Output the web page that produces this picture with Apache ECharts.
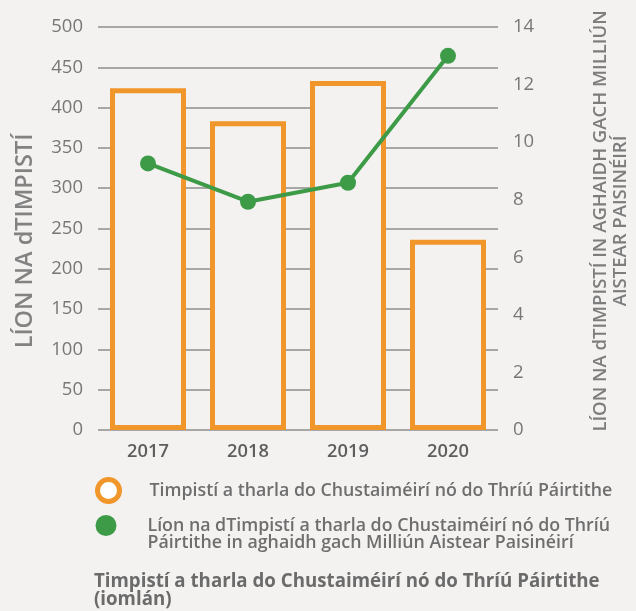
<!DOCTYPE html>
<html>
<head>
<meta charset="utf-8">
<script src="https://cdn.jsdelivr.net/npm/echarts@6/dist/echarts.min.js"></script>
<style>
html,body{margin:0;padding:0;background:#f4f2f1;}
#chart{width:636px;height:611px;}
</style>
</head>
<body>
<div id="chart"></div>
<script>
const categories = ['2017', '2018', '2019', '2020'];
const accidentCounts = [424, 383, 433, 236];
const accidentsPerMillion = [9.26, 7.93, 8.59, 13.0];
const leftTicks = [0, 50, 100, 150, 200, 250, 300, 350, 400, 450, 500];
const rightTicks = [0, 2, 4, 6, 8, 10, 12, 14];

const barName = 'Timpistí a tharla do Chustaiméirí nó do Thríú Páirtithe';
const lineName = 'Líon na dTimpistí a tharla do Chustaiméirí nó do Thríú\nPáirtithe in aghaidh gach Milliún Aistear Paisinéirí';
const leftTitle = 'LÍON NA dTIMPISTÍ';
const rightTitle = 'LÍON NA dTIMPISTÍ IN AGHAIDH GACH MILLIÚN\nAISTEAR PAISINÉIRÍ';
const footTitle = 'Timpistí a tharla do Chustaiméirí nó do Thríú Páirtithe\n(iomlán)';

const ORANGE = '#f0962a';
const GREEN = '#3d9b48';
const FONT = '"Open Sans", sans-serif';

const chart = echarts.init(document.getElementById('chart'));
chart.setOption({
  backgroundColor: '#f4f2f1',
  animation: false,
  textStyle: { fontFamily: FONT },
  title: {
    text: footTitle,
    left: 94,
    top: 573,
    padding: 0,
    textStyle: { fontFamily: FONT, fontSize: 18.7, fontWeight: 'bold', color: '#6b6b6b', lineHeight: 18 }
  },
  grid: { left: 98, right: 138, top: 27, bottom: 181, containLabel: false, outerBoundsMode: 'none' },
  legend: [
    {
      data: [{ name: barName, icon: 'circle', itemStyle: { color: '#ffffff', borderColor: ORANGE, borderWidth: 5 } }],
      left: 95, top: 477, padding: 0,
      itemWidth: 22, itemHeight: 22,
      selectedMode: false,
      textStyle: { fontFamily: FONT, fontSize: 17.8, fontWeight: 600, color: '#6e6e6e', lineHeight: 17, padding: [0, 0, 0, 25] }
    },
    {
      data: [{ name: lineName, icon: 'circle', itemStyle: { color: GREEN, borderWidth: 0 } }],
      left: 95.5, top: 498, padding: 0,
      itemWidth: 21, itemHeight: 21,
      selectedMode: false,
      formatter: name => ' \n' + name,
      textStyle: { fontFamily: FONT, fontSize: 17.8, fontWeight: 600, color: '#6e6e6e', lineHeight: 17, padding: [4, 0, 0, 26] }
    }
  ],
  xAxis: {
    type: 'category',
    data: categories,
    axisLine: { show: false },
    axisTick: { show: false },
    axisLabel: { fontFamily: FONT, fontSize: 18.3, fontWeight: 600, color: '#5e5e5e', margin: 13 }
  },
  yAxis: [
    {
      type: 'value',
      min: 0, max: 500, interval: 50,
      name: leftTitle,
      nameLocation: 'middle',
      nameGap: 61,
      nameTextStyle: { fontFamily: FONT, fontSize: 23.5, fontWeight: 600, color: '#828282', padding: [0, 25, 0, 0] },
      axisLine: { show: false },
      axisTick: { show: false },
      axisLabel: { fontFamily: FONT, fontSize: 18.5, color: '#777777', margin: 15,
        formatter: v => leftTicks.includes(v) ? String(v) : '' },
      splitLine: { show: true, lineStyle: { color: '#8e8e8e', width: 1.5 } }
    },
    {
      type: 'value',
      min: 0, max: 14, interval: 2,
      position: 'right',
      name: rightTitle,
      nameLocation: 'middle',
      nameRotate: 90,
      nameGap: 93,
      nameTextStyle: { fontFamily: FONT, fontSize: 18.5, fontWeight: 600, color: '#7d7d7d', lineHeight: 20, align: 'center', padding: [0, 0, 0, 15] },
      axisLine: { show: false },
      axisTick: { show: false },
      axisLabel: { fontFamily: FONT, fontSize: 18.5, color: '#777777', margin: 15,
        formatter: v => rightTicks.includes(v) ? String(v) : '' },
      splitLine: { show: false }
    }
  ],
  series: [
    {
      name: barName,
      type: 'bar',
      data: accidentCounts,
      yAxisIndex: 0,
      barWidth: 76,
      itemStyle: { color: '#f4f2f1', borderColor: ORANGE, borderWidth: 5 }
    },
    {
      name: lineName,
      type: 'line',
      data: accidentsPerMillion,
      yAxisIndex: 1,
      symbol: 'circle',
      symbolSize: 16,
      itemStyle: { color: GREEN },
      lineStyle: { color: GREEN, width: 4 }
    }
  ]
});
</script>
</body>
</html>
